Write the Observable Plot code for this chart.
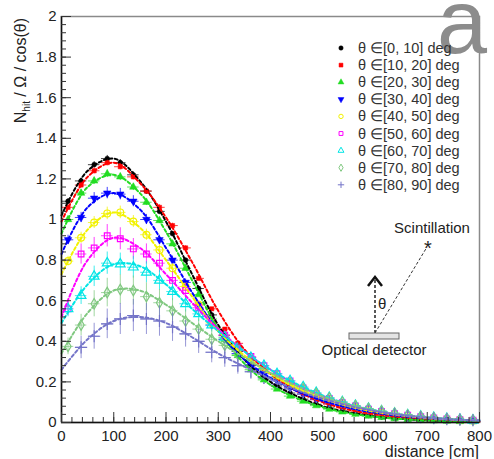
<!DOCTYPE html>
<html><head><meta charset="utf-8">
<script src="https://cdn.jsdelivr.net/npm/d3@7"></script>
<script src="https://cdn.jsdelivr.net/npm/@observablehq/plot@0.6"></script>
<style>
html,body{margin:0;padding:0;background:#fff;}
#wrap{position:relative;width:494px;height:459px;font-family:"Liberation Sans",Arial,sans-serif;}
#wrap svg.ov{position:absolute;left:0;top:0;pointer-events:none;}
</style></head><body><div id="wrap"></div>
<script>
// ---- data ----
const xCenters = [12.5,37.5,62.5,87.5,112.5,137.5,162.5,187.5,212.5,237.5,262.5,287.5,312.5,337.5,362.5,387.5,412.5,437.5,462.5,487.5,512.5,537.5,562.5,587.5,612.5,637.5,662.5,687.5,712.5,737.5,762.5,787.5];
const labels = ["θ ∈[0, 10] deg","θ ∈[10, 20] deg","θ ∈[20, 30] deg","θ ∈[30, 40] deg","θ ∈[40, 50] deg","θ ∈[50, 60] deg","θ ∈[60, 70] deg","θ ∈[70, 80] deg","θ ∈[80, 90] deg"];
const colors = ["#000000","#ff0000","#22dd22","#0000ff","#f2f200","#ff00ff","#00e5e5","#80c880","#7474c8"];
const symbols = ["circle","square","triangle","triangle","circle","square","triangle","diamond","plus"];
const filled = [true,true,true,true,false,false,false,false,false];
const rotations = [0,0,0,180,0,0,0,0,0];
const sizes = [2.4,2.4,2.8,2.8,3.4,3.2,3.6,3.2,4];
const relErr = [0.012,0.012,0.015,0.025,0.03,0.06,0.07,0.11,0.15];
const xHalf = 11;

const d0_10  = [1.09,1.19,1.27,1.30,1.28,1.22,1.14,1.04,0.93,0.80,0.66,0.53,0.43,0.35,0.28,0.225,0.18,0.145,0.115,0.09,0.072,0.057,0.045,0.035,0.027,0.021,0.016,0.012,0.01,0.008,0.006,0.005];
const d10_20 = [1.06,1.17,1.24,1.28,1.26,1.21,1.14,1.06,0.97,0.86,0.71,0.56,0.46,0.39,0.32,0.265,0.215,0.175,0.14,0.112,0.09,0.072,0.057,0.045,0.036,0.028,0.022,0.017,0.013,0.01,0.008,0.006];
const d20_30 = [1.00,1.13,1.19,1.225,1.21,1.16,1.085,0.995,0.88,0.76,0.63,0.51,0.41,0.33,0.26,0.21,0.165,0.13,0.105,0.083,0.066,0.052,0.041,0.032,0.025,0.019,0.015,0.011,0.009,0.007,0.005,0.004];
const d30_40 = [0.90,1.01,1.105,1.13,1.125,1.09,1.00,0.90,0.80,0.69,0.58,0.48,0.41,0.34,0.285,0.24,0.205,0.17,0.14,0.115,0.095,0.078,0.064,0.052,0.042,0.034,0.028,0.022,0.018,0.014,0.011,0.009];
const d40_50 = [0.795,0.91,0.985,1.03,1.035,0.99,0.925,0.85,0.76,0.67,0.58,0.49,0.42,0.36,0.305,0.26,0.22,0.185,0.155,0.13,0.108,0.09,0.074,0.06,0.049,0.04,0.032,0.026,0.021,0.016,0.013,0.01];
const d50_60 = [0.56,0.83,0.86,0.92,0.905,0.855,0.83,0.785,0.70,0.65,0.565,0.50,0.43,0.375,0.325,0.28,0.24,0.205,0.17,0.142,0.118,0.098,0.081,0.066,0.054,0.044,0.036,0.029,0.023,0.018,0.014,0.011];
const d60_70 = [0.56,0.625,0.72,0.785,0.78,0.765,0.74,0.70,0.645,0.585,0.535,0.48,0.42,0.37,0.32,0.28,0.24,0.205,0.175,0.147,0.123,0.102,0.084,0.069,0.056,0.045,0.037,0.03,0.024,0.019,0.015,0.011];
const d70_80 = [0.375,0.48,0.585,0.64,0.655,0.65,0.62,0.59,0.55,0.50,0.46,0.41,0.38,0.335,0.295,0.26,0.225,0.195,0.167,0.142,0.12,0.1,0.083,0.069,0.057,0.046,0.037,0.03,0.024,0.019,0.015,0.012];
const d80_90 = [null,0.37,0.425,0.486,0.51,0.527,0.51,0.50,0.47,0.437,0.40,0.346,0.32,0.28,0.25,0.22,0.19,0.165,0.14,0.12,0.1,0.084,0.07,0.058,0.048,0.04,0.032,0.026,0.021,0.017,0.014,0.011];
const seriesData = [d0_10,d10_20,d20_30,d30_40,d40_50,d50_60,d60_70,d70_80,d80_90];

// fitted curves, read at every 50 cm
const fitX = [0,50,100,150,200,250,300,350,400,450,500,550,600,650,700,750,800];
const f0_10  = [1.02,1.24,1.30,1.19,0.99,0.73,0.48,0.31,0.20,0.13,0.08,0.05,0.03,0.018,0.011,0.006,0.004];
const f10_20 = [0.99,1.21,1.28,1.18,1.01,0.79,0.55,0.36,0.24,0.155,0.10,0.063,0.04,0.025,0.015,0.009,0.005];
const f20_30 = [0.93,1.16,1.22,1.13,0.94,0.70,0.46,0.29,0.185,0.12,0.075,0.046,0.028,0.017,0.01,0.006,0.004];
const f30_40 = [0.83,1.06,1.13,1.05,0.86,0.64,0.45,0.31,0.22,0.155,0.107,0.072,0.048,0.031,0.02,0.013,0.008];
const f40_50 = [0.73,0.95,1.035,0.96,0.80,0.62,0.45,0.33,0.24,0.17,0.118,0.08,0.053,0.035,0.022,0.014,0.009];
const f50_60 = [0.52,0.80,0.91,0.86,0.73,0.59,0.46,0.35,0.26,0.185,0.13,0.088,0.058,0.038,0.024,0.015,0.01];
const f60_70 = [0.49,0.68,0.78,0.77,0.68,0.56,0.45,0.35,0.26,0.19,0.133,0.09,0.06,0.039,0.025,0.016,0.01];
const f70_80 = [0.34,0.54,0.65,0.65,0.58,0.49,0.40,0.32,0.245,0.18,0.128,0.088,0.059,0.039,0.025,0.016,0.01];
const f80_90 = [0.26,0.41,0.50,0.52,0.49,0.42,0.34,0.275,0.215,0.16,0.117,0.082,0.056,0.037,0.024,0.015,0.01];
const fitData = [f0_10,f10_20,f20_30,f30_40,f40_50,f50_60,f60_70,f70_80,f80_90];

const xMajor = [0,100,200,300,400,500,600,700,800];
const xMinor = d3.range(0,801,20);
const yMajor = [0,0.2,0.4,0.6,0.8,1,1.2,1.4,1.6,1.8,2];
const yMinor = d3.range(0,2.001,0.04);

// ---- build marks ----
const marks = [Plot.frame({stroke:"#8a8a8a", strokeWidth:1.5})];
seriesData.forEach((vals,i)=>{
  const pts = vals.map((v,j)=>({x:xCenters[j], y:v})).filter(d=>d.y!=null).map(d=>({...d, e:d.y*relErr[i]}));
  marks.push(Plot.ruleX(pts,{x:"x", y1:d=>d.y-d.e, y2:d=>d.y+d.e, stroke:colors[i], strokeWidth:1, strokeOpacity:0.75}));
  marks.push(Plot.ruleY(pts,{y:"y", x1:d=>d.x-xHalf, x2:d=>d.x+xHalf, stroke:colors[i], strokeWidth:1, strokeOpacity:0.75}));
  marks.push(Plot.dot(pts,{x:"x", y:"y", symbol:symbols[i], rotate:rotations[i], r:sizes[i],
    fill: filled[i]? colors[i] : "none", stroke: colors[i], strokeWidth: filled[i]?0.5:1.2}));
});
fitData.forEach((vals,i)=>{
  const pts = vals.map((v,j)=>({x:fitX[j], y:v}));
  marks.push(Plot.line(pts,{x:"x", y:"y", curve:"catmull-rom", stroke:colors[i], strokeWidth:2, strokeDasharray:"3,2.5"}));
});
marks.push(Plot.ruleX([xMajor[0]],{stroke:"#111", strokeWidth:1.5}));
marks.push(Plot.ruleY([yMajor[0]],{stroke:"#111", strokeWidth:1.5}));
marks.push(Plot.axisX({ticks:xMinor, tickSize:-5, tickFormat:()=>"", label:null, stroke:"#333"}));
marks.push(Plot.axisX({ticks:xMajor, tickSize:-10, tickPadding:18, tickFormat:d=>String(d), label:null, fontSize:15, fill:"#222", stroke:"#333"}));
marks.push(Plot.axisY({ticks:yMinor, tickSize:-5, tickFormat:()=>"", label:null, stroke:"#333"}));
marks.push(Plot.axisY({ticks:yMajor, tickSize:-10, tickPadding:15, tickFormat:d=>String(d), label:null, fontSize:15, fill:"#222", stroke:"#333"}));

const chart = Plot.plot({
  width:494, height:459,
  marginLeft:61, marginRight:15, marginTop:16, marginBottom:37,
  x:{domain:[0,800]}, y:{domain:[0,2]},
  style:{fontFamily:"'Liberation Sans', Arial, sans-serif", background:"white", color:"#222"},
  marks
});
const wrap = document.getElementById("wrap");
wrap.appendChild(chart);

// ---- overlay: titles, legend, inset diagram ----
const ov = d3.select(wrap).append("svg").attr("class","ov").attr("width",494).attr("height",459)
  .style("font-family","'Liberation Sans', Arial, sans-serif");

// big panel letter
ov.append("text").attr("x",437).attr("y",53).attr("font-size",90).attr("fill","#8c8c8c").text("a");

// y title
const yt = ov.append("text").attr("transform","translate(26,18) rotate(-90)").attr("text-anchor","end")
  .attr("font-size",16).attr("fill","#222");
yt.append("tspan").text("N");
yt.append("tspan").attr("font-size",10).attr("dy",4).text("hit");
yt.append("tspan").attr("dy",-4).text(" / Ω / cos(θ)");

// x title
ov.append("text").attr("x",479).attr("y",457).attr("text-anchor","end").attr("font-size",16).attr("fill","#222").text("distance [cm]");

// legend
const d3sym = {circle:d3.symbolCircle, square:d3.symbolSquare, triangle:d3.symbolTriangle, diamond:d3.symbolDiamond, plus:d3.symbolPlus};
labels.forEach((lab,i)=>{
  const y = 48 + i*17.1;
  ov.append("path").attr("d", d3.symbol(d3sym[symbols[i]], Math.PI*2.2*2.2)())
    .attr("transform",`translate(341,${y}) rotate(${rotations[i]})`)
    .attr("fill", filled[i]?colors[i]:"none").attr("stroke",colors[i]).attr("stroke-width",filled[i]?0.5:1);
  ov.append("text").attr("x",358).attr("y",y).attr("dy","0.35em").attr("font-size",14.5).attr("fill","#333").text(lab);
});

// inset diagram
ov.append("text").attr("x",432).attr("y",233).attr("text-anchor","middle").attr("font-size",15).attr("fill","#222").text("Scintillation");
ov.append("text").attr("x",428).attr("y",255).attr("text-anchor","middle").attr("font-size",20).attr("fill","#222").text("*");
ov.append("line").attr("x1",375).attr("y1",333).attr("x2",427).attr("y2",247).attr("stroke","#333").attr("stroke-width",1).attr("stroke-dasharray","3,2");
ov.append("line").attr("x1",375).attr("y1",333).attr("x2",375).attr("y2",279).attr("stroke","#222").attr("stroke-width",1.5).attr("stroke-dasharray","3,2");
ov.append("path").attr("d","M368,286 L375,277 L382,286").attr("fill","none").attr("stroke","#111").attr("stroke-width",2.5);
ov.append("text").attr("x",378).attr("y",309).attr("font-size",15).attr("fill","#222").text("θ");
ov.append("rect").attr("x",349).attr("y",333).attr("width",50).attr("height",6).attr("fill","#e4e4e4").attr("stroke","#666").attr("stroke-width",1);
ov.append("text").attr("x",374).attr("y",355).attr("text-anchor","middle").attr("font-size",15).attr("fill","#222").text("Optical detector");
</script></body></html>
